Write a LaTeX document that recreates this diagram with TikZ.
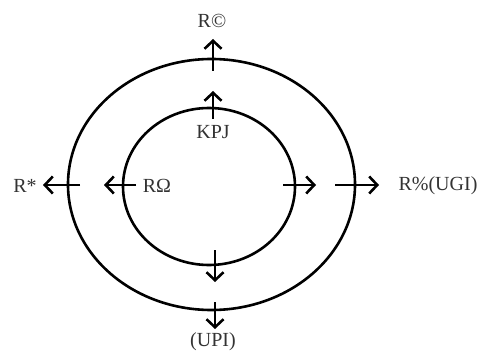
\documentclass[tikz,border=0pt]{standalone}
\usepackage{fontspec}
\setmainfont{Liberation Serif}
\usetikzlibrary{arrows.meta}
\definecolor{txt}{HTML}{333333}
\begin{document}
\begin{tikzpicture}[x=1pt,y=-1pt,
  ring/.style={line width=2.6pt},
  arr/.style={line width=2.6pt,-{Straight Barb[length=8pt,width=17pt,line width=2.6pt]}},
  lbl/.style={font=\fontsize{20}{24}\selectfont,text=txt,inner sep=0pt}]
\useasboundingbox (0,0) rectangle (486,358);
\draw[ring] (211.5,184.5) ellipse [x radius=143.5, y radius=125.5];
\draw[ring] (209,186.5) ellipse [x radius=86, y radius=78.5];
% labels
\node[lbl] (rc) at (212,21) {R©};
\node[lbl] (kpj) at (213,132) {KPJ};
\node[lbl] (rs) at (25,186) {R*};
\node[lbl] (ro) at (157,186) {RΩ};
\node[lbl] (rugi) at (438,186) {R\%(UGI)};
\node[lbl] (upi) at (213,342) {(UPI)};
% arrow coordinates
\coordinate (t1s) at (213,71); \coordinate (t1e) at (213,39);
\coordinate (t2s) at (213,119); \coordinate (t2e) at (213,91);
\coordinate (l1s) at (80,185); \coordinate (l1e) at (43,185);
\coordinate (l2s) at (136,185); \coordinate (l2e) at (104,185);
\coordinate (r2s) at (283,185); \coordinate (r2e) at (316,185);
\coordinate (r1s) at (335,185); \coordinate (r1e) at (379,185);
\coordinate (b2s) at (215,250); \coordinate (b2e) at (215,282);
\coordinate (b1s) at (215,302); \coordinate (b1e) at (215,329);
\draw[arr] (t1s) -- (t1e);
\draw[arr] (t2s) -- (t2e);
\draw[arr] (l1s) -- (l1e);
\draw[arr] (l2s) -- (l2e);
\draw[arr] (r2s) -- (r2e);
\draw[arr] (r1s) -- (r1e);
\draw[arr] (b2s) -- (b2e);
\draw[arr] (b1s) -- (b1e);
\end{tikzpicture}
\end{document}
